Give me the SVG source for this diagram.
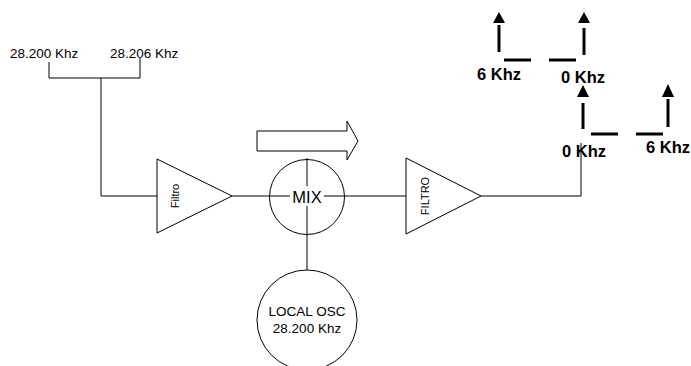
<svg xmlns="http://www.w3.org/2000/svg" width="691" height="366" viewBox="0 0 691 366">
<style>
.w{stroke:#000;stroke-width:1;fill:none}
.sh{stroke:#000;stroke-width:1;fill:#fff}
.t{font-family:"Liberation Sans",Arial,sans-serif;fill:#000}
.b{font-family:"Liberation Sans",Arial,sans-serif;font-weight:bold;font-size:16.5px;fill:#000}
.sp{stroke:#000;stroke-width:3;fill:none}
.ah{fill:#000;stroke:none}
</style>
<rect width="691" height="366" fill="#fff"/>
<g id="connectors">
<polyline class="w" points="49,62 49,78 140,78 140,58"/>
<polyline class="w" points="101,78 101,196 157,196"/>
<line class="w" x1="232" y1="196" x2="406" y2="196"/>
<line class="w" x1="307" y1="158" x2="307" y2="270"/>
<polyline class="w" points="481,196 581,196 581,143"/>
</g>
<g id="input-labels">
<text class="t" x="10" y="58" font-size="13.5">28.200 Khz</text>
<text class="t" x="110" y="58" font-size="13.5">28.206 Khz</text>
</g>
<g id="filtro">
<polygon class="sh" points="157,159 232,196 157,233"/>
<text class="t" font-size="11" text-anchor="middle" transform="translate(179,196) rotate(-90)">Filtro</text>
</g>
<g id="direction-arrow">
<polygon class="sh" points="257,131 347,131 347,121 358,141 347,160 347,151 257,151"/>
</g>
<g id="mix">
<circle class="w" cx="307" cy="197" r="37.5"/>
<rect x="290" y="186" width="34" height="20" fill="#fff"/>
<text class="t" x="307" y="203" font-size="16.5" text-anchor="middle">MIX</text>
</g>
<g id="local-osc">
<circle class="sh" cx="307" cy="320" r="50"/>
<text class="t" x="307" y="316" font-size="13.5" text-anchor="middle">LOCAL OSC</text>
<text class="t" x="307" y="333" font-size="13.5" text-anchor="middle">28.200 Khz</text>
</g>
<g id="filtro2">
<polygon class="sh" points="406,158 481,196 406,234"/>
<text class="t" font-size="11" text-anchor="middle" transform="translate(429,196) rotate(-90)">FILTRO</text>
</g>
<g id="spectrum-top">
<polygon class="ah" points="499,12 505,23 493,23"/>
<line class="sp" x1="499" y1="25" x2="499" y2="52"/>
<line class="sp" x1="504" y1="60" x2="531" y2="60"/>
<line class="sp" x1="549" y1="60" x2="576" y2="60"/>
<polygon class="ah" points="584,12 590,23 578,23"/>
<line class="sp" x1="584" y1="28" x2="584" y2="55"/>
<text class="b" x="477" y="80">6 Khz</text>
<text class="b" x="561" y="83">0 Khz</text>
</g>
<g id="spectrum-bottom">
<polygon class="ah" points="583,85 589,97 577,97"/>
<line class="sp" x1="583" y1="103" x2="583" y2="129"/>
<line class="sp" x1="591" y1="134" x2="618" y2="134"/>
<line class="sp" x1="636" y1="134" x2="663" y2="134"/>
<polygon class="ah" points="668,84 674,97 662,97"/>
<line class="sp" x1="668" y1="99" x2="668" y2="127"/>
<text class="b" x="562" y="157">0 Khz</text>
<text class="b" x="646" y="153">6 Khz</text>
</g>
</svg>
